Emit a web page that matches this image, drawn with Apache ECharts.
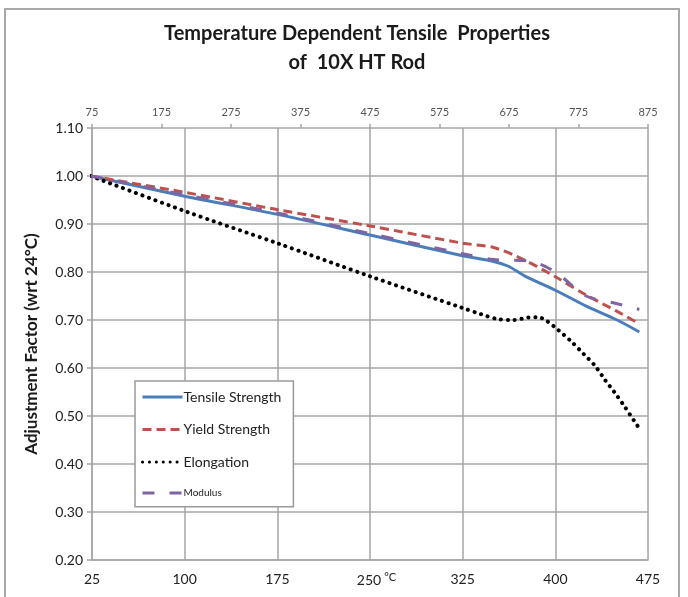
<!DOCTYPE html>
<html>
<head>
<meta charset="utf-8">
<script src="https://cdn.jsdelivr.net/npm/echarts@6/dist/echarts.min.js"></script>
<style>
  html, body { margin: 0; padding: 0; background: #fff; }
  #chart { width: 688px; height: 597px; }
</style>
</head>
<body>
<div id="chart"></div>
<script>
// Temperatures in °C and adjustment factors relative to 24 °C
const tensileTemp  = [24, 100, 175, 250, 325, 350, 362, 375, 400, 425, 450, 468];
const tensileVals  = [1.00, 0.958, 0.920, 0.877, 0.834, 0.822, 0.812, 0.792, 0.762, 0.729, 0.700, 0.675];

const yieldTemp    = [24, 100, 175, 250, 325, 350, 375, 400, 425, 450, 468];
const yieldVals    = [1.00, 0.966, 0.930, 0.896, 0.860, 0.851, 0.825, 0.790, 0.752, 0.718, 0.692];

const elongTemp    = [24, 100, 175, 250, 325, 340, 353, 366, 378, 386, 393, 402, 413, 423, 432, 440, 448, 456, 464, 468];
const elongVals    = [1.00, 0.927, 0.860, 0.791, 0.725, 0.712, 0.702, 0.700, 0.705, 0.706, 0.698, 0.680, 0.655, 0.629, 0.605, 0.576, 0.549, 0.520, 0.489, 0.474];

const modulusTemp  = [24, 100, 175, 250, 325, 350, 380, 400, 425, 450, 468];
const modulusVals  = [1.00, 0.961, 0.923, 0.880, 0.838, 0.826, 0.822, 0.800, 0.750, 0.734, 0.722];

// Axis tick labels
const celsiusTicks    = [25, 100, 175, 250, 325, 400, 475];
const fahrenheitTicks = [75, 175, 275, 375, 475, 575, 675, 775, 875];
const factorTicks     = [0.20, 0.30, 0.40, 0.50, 0.60, 0.70, 0.80, 0.90, 1.00, 1.10];

const seriesNames = ['Tensile Strength', 'Yield Strength', 'Elongation', 'Modulus'];

const pair = (xs, ys) => xs.map((x, i) => [x, ys[i]]);

const gridColor = '#a6a6a6';
const labelFont = 'Lato, "Open Sans", sans-serif';

const chart = echarts.init(document.getElementById('chart'), null, { renderer: 'canvas' });

chart.setOption({
  backgroundColor: '#ffffff',
  animation: false,
  title: {
    text: 'Temperature Dependent Tensile  Properties\nof  10X HT Rod',
    left: 352,
    textAlign: 'center',
    top: 14,
    textStyle: {
      fontFamily: labelFont,
      fontWeight: 'bold',
      fontSize: 20,
      lineHeight: 29,
      color: '#1a1a1a'
    }
  },
  graphic: [{
    type: 'rect',
    shape: { x: 5, y: 9, width: 674, height: 600 },
    style: { fill: 'none', stroke: '#a8a8a8', lineWidth: 2 },
    silent: true,
    z: -1
  }],
  grid: { left: 92, right: 40, top: 128, bottom: 37 },
  legend: {
    orient: 'vertical',
    left: 135,
    top: 381,
    itemWidth: 40,
    itemHeight: 14,
    itemGap: 18.5,
    padding: [9, 12, 8, 6],
    backgroundColor: '#ffffff',
    borderColor: '#9a9a9a',
    borderWidth: 1.5,
    itemStyle: { opacity: 0 },
    lineStyle: { width: 3 },
    textStyle: { fontFamily: labelFont, fontSize: 14, color: '#222', padding: [0, 0, 0, -4] },
    data: [
      { name: 'Tensile Strength' },
      { name: 'Yield Strength' },
      { name: 'Elongation' },
      { name: 'Modulus', textStyle: { fontSize: 10 } }
    ]
  },
  xAxis: [
    {
      type: 'value',
      position: 'bottom',
      min: 25, max: 475, interval: 75,
      axisLine: { show: true, lineStyle: { color: gridColor, width: 1.5 } },
      axisTick: { show: false },
      splitLine: { show: true, lineStyle: { color: gridColor, width: 1.5 } },
      axisLabel: {
        margin: 12,
        fontFamily: labelFont,
        fontSize: 14,
        color: '#222',
        customValues: celsiusTicks,
        formatter: v => v === 250 ? '{pad|}{v|250}{u|°C}' : String(v),
        rich: {
          pad: { width: 14 },
          v: { fontFamily: labelFont, fontSize: 14, color: '#222' },
          u: { fontFamily: labelFont, fontSize: 11, color: '#222', width: 14, align: 'left', padding: [0, 0, 6, 2] }
        }
      }
    },
    {
      type: 'value',
      position: 'top',
      min: 75, max: 875, interval: 100,
      axisLine: { show: false },
      axisTick: { show: true, inside: false, length: 4, lineStyle: { color: gridColor, width: 1.5 } },
      splitLine: { show: false },
      axisLabel: {
        margin: 10,
        fontFamily: labelFont,
        fontSize: 11,
        color: '#555',
        customValues: fahrenheitTicks,
        formatter: v => String(v)
      }
    }
  ],
  yAxis: {
    type: 'value',
    min: 0.2, max: 1.1, interval: 0.1,
    name: 'Adjustment Factor (wrt 24°C)',
    nameLocation: 'middle',
    nameGap: 52,
    nameRotate: 90,
    nameTextStyle: { fontFamily: labelFont, fontWeight: 'bold', fontSize: 17, color: '#1a1a1a' },
    axisLine: { show: true, lineStyle: { color: gridColor, width: 1.5 } },
    axisTick: { show: true, length: 5, lineStyle: { color: gridColor, width: 1.5 } },
    splitLine: { show: true, lineStyle: { color: gridColor, width: 1.5 } },
    axisLabel: {
      margin: 9,
      fontFamily: labelFont,
      fontSize: 14,
      color: '#222',
      customValues: factorTicks,
      formatter: v => v.toFixed(2)
    }
  },
  series: [
    {
      name: seriesNames[0],
      type: 'line',
      data: pair(tensileTemp, tensileVals),
      smooth: 0.3,
      symbol: 'none',
      lineStyle: { color: '#4a7ebb', width: 3 },
      itemStyle: { color: '#4a7ebb' },
      z: 2
    },
    {
      name: seriesNames[1],
      type: 'line',
      data: pair(yieldTemp, yieldVals),
      smooth: 0.3,
      symbol: 'none',
      lineStyle: { color: '#c0504d', width: 3, type: [9, 5] },
      itemStyle: { color: '#c0504d' },
      z: 3
    },
    {
      name: seriesNames[2],
      type: 'line',
      data: pair(elongTemp, elongVals),
      smooth: 0.3,
      symbol: 'none',
      lineStyle: { color: '#000000', width: 4, type: [0.1, 6.8], cap: 'round' },
      itemStyle: { color: '#000000' },
      z: 4
    },
    {
      name: seriesNames[3],
      type: 'line',
      data: pair(modulusTemp, modulusVals),
      smooth: 0.3,
      symbol: 'none',
      lineStyle: { color: '#8064a2', width: 3, type: [12, 15] },
      itemStyle: { color: '#8064a2' },
      z: 5
    }
  ]
});
</script>
</body>
</html>
